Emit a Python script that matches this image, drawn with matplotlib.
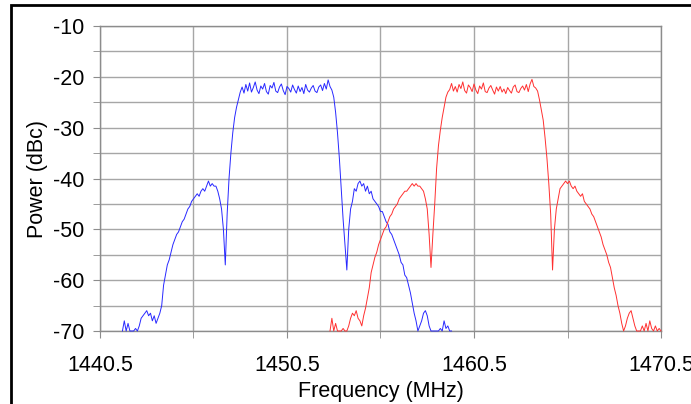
import matplotlib
matplotlib.use("Agg")
import matplotlib.pyplot as plt
import numpy as np
from matplotlib.patches import Rectangle

plt.rcParams['font.family'] = ['Liberation Sans', 'DejaVu Sans']
plt.rcParams['axes.unicode_minus'] = False

# sample spacing of the analyser trace (MHz)
step = 0.1

# blue carrier, first sample at 1441.7 MHz
blue_start = 1441.7
blue_power = [
    -70, -68, -70, -68.5, -70, -70, -70, -69.5, -70, -69,
    -67.5, -67, -66.5, -66, -67, -66.5, -68, -67, -68.5, -67.5,
    -66.5, -65, -61, -59, -57, -56, -54.5, -53, -52, -51,
    -50.5, -49.5, -48.5, -48, -47, -46, -45.5, -44.5, -44, -43.5,
    -43, -43.5, -42.5, -42, -42.5, -41.5, -40.5, -41.5, -41, -41.5,
    -41.5, -42.5, -44, -46, -50, -57, -47, -40, -35, -31,
    -28, -26, -24.5, -23,
    # flat top 1448.1 .. 1452.9
    -22.0, -23.2, -21.5, -22.8, -21.2, -23.0, -22.1, -21.0, -22.6, -23.3,
    -21.8, -22.4, -21.3, -22.9, -23.4, -21.7, -22.2, -21.1, -22.8, -23.1,
    -22.0, -21.4, -22.7, -23.5, -21.9, -22.3, -23.0, -21.6, -22.5, -23.2,
    -21.8, -22.9, -22.1, -23.3, -21.5, -22.6, -23.0, -22.2, -21.7, -22.8,
    -23.1, -22.0, -21.6, -22.7, -21.3, -22.4, -20.6, -21.9, -22.6,
    # right skirt 1453.0 ..
    -24, -27, -31, -36, -42, -48, -53, -58, -50, -46,
    -44.5, -42, -42.5, -41, -40.5, -41.5, -41, -42.5, -41.5, -43,
    -42.5, -44, -44.5, -45, -45.5, -46.5, -46.5, -47.5, -48.5, -49,
    -50.5, -51, -52, -53, -54, -55, -56.5, -57, -59, -59.5,
    -61, -62.5, -64.5, -66.5, -68, -70, -69, -68, -66.5, -66,
    -67, -69, -70, -70, -70, -70, -70, -69.5, -70, -68,
    -69.5, -69, -70, -70,
]

# red carrier, first sample at 1452.8 MHz
red_start = 1452.8
red_power = [
    -70, -67.5, -70, -68.5, -70, -70, -70, -69.5, -70, -70,
    -69, -67.5, -66.5, -67, -66, -67.5, -68, -69, -67, -65.5,
    -63.5, -61.5, -58.5, -57, -55.5, -54.5, -53, -52, -51, -50,
    -49.5, -48.5, -47.5, -47, -46, -45.5, -45, -44, -43.5, -43,
    -42.5, -42.5, -42, -41.5, -41, -41.5, -41, -41.5, -41.5, -42,
    -42.5, -44, -46, -51, -57.5, -51, -45, -38, -33.5, -30.5,
    -28, -26, -24, -23,
    # flat top 1459.2 .. 1463.9
    -22.5, -21.3, -22.8, -21.9, -23.0, -21.5, -22.3, -21.0, -22.7, -23.2,
    -21.6, -22.1, -22.9, -21.4, -22.6, -23.3, -21.8, -22.4, -21.2, -22.9,
    -23.1, -22.2, -21.7, -22.6, -23.4, -22.0, -22.8, -21.9, -23.0, -22.4,
    -23.3, -22.1, -22.7, -23.2, -22.0, -21.6, -22.9, -23.1, -22.3, -21.8,
    -22.6, -21.5, -22.9, -21.4, -20.5, -21.9, -22.2, -22.8,
    # right skirt 1464.0 ..
    -24.5, -26.5, -28.5, -32, -36, -41, -47, -58, -50, -46,
    -44, -42, -41.5, -41, -40.5, -41, -40.5, -41.5, -42, -41.5,
    -42.5, -43, -43.5, -43, -44.5, -45, -45.5, -46, -47, -47.5,
    -48.5, -49.5, -50.5, -51.5, -53, -54, -55, -56.5, -57.5, -59.5,
    -61.5, -63, -65, -66.5, -68.5, -70, -69, -67.5, -66.5, -66,
    -67.5, -69, -70, -70, -70, -69, -70, -68.5, -70, -68,
    -69.5, -70, -69, -70, -69.5, -70,
]

x_ticks = [1440.5, 1450.5, 1460.5, 1470.5]
y_ticks = [-70, -60, -50, -40, -30, -20, -10]

blue_freq = blue_start + step * np.arange(len(blue_power))
red_freq = red_start + step * np.arange(len(red_power))

fig = plt.figure(figsize=(6.91, 4.04), dpi=100)
ax = fig.add_axes([0.1447, 0.1807, 0.8119, 0.7549])

ax.plot(blue_freq, blue_power, color='#2828ff', linewidth=0.7, clip_on=False, zorder=3)
ax.plot(red_freq, red_power, color='#ff3030', linewidth=0.7, clip_on=False, zorder=3)

ax.set_xlim(1440.5, 1470.5)
ax.set_ylim(-70, -10)
ax.set_xticks(x_ticks)
ax.set_xticklabels([f"{v:.1f}" for v in x_ticks])
ax.set_yticks(y_ticks)
ax.set_xticks(np.arange(1445.5, 1470, 10), minor=True)
ax.set_yticks(np.arange(-65, -10, 10), minor=True)

ax.grid(which='both', color='#a6a6a6', linewidth=1.0, zorder=0)
ax.set_axisbelow(True)
for sp in ax.spines.values():
    sp.set_color('#8c8c8c')
    sp.set_linewidth(1.0)

ax.tick_params(which='both', direction='out', length=5, color='#8c8c8c', labelsize=15.5)
ax.tick_params(axis='y', pad=6)
ax.tick_params(axis='x', pad=12)

ax.set_xlabel('Frequency (MHz)', fontsize=15.5, labelpad=4)
ax.set_ylabel('Power (dBc)', fontsize=15.5, labelpad=4)

# black frame around the picture (open to the right and bottom)
fig.patches.append(Rectangle((11 / 691, -0.1), 1.2, 1.1 - 5 / 404, transform=fig.transFigure,
                             fill=False, edgecolor='black', linewidth=2, clip_on=False))

fig.savefig('out.png', dpi=100)
